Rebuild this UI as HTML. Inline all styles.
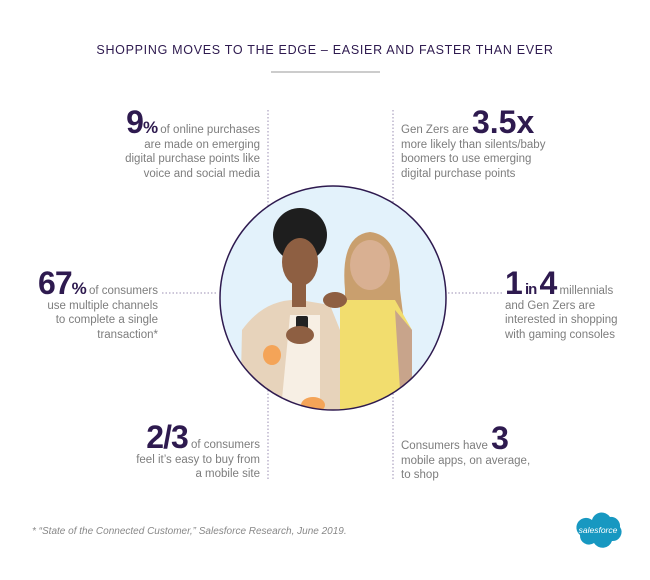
<!DOCTYPE html>
<html><head><style>
body{margin:0;background:#fff;width:650px;height:580px;position:relative;overflow:hidden;font-family:"Liberation Sans",sans-serif;color:#7d7d7d}
.t{position:absolute;font-size:11.5px;line-height:14.5px}
.r{text-align:right}
.b{color:#2e1a4f;font-weight:bold;letter-spacing:-1px}
</style></head><body>
<div style="position:absolute;left:0;width:650px;top:43px;text-align:center;font-size:12.5px;color:#2e1a4f;letter-spacing:0.7px">SHOPPING MOVES TO THE EDGE – EASIER AND FASTER THAN EVER</div>
<div style="position:absolute;left:271px;top:71px;width:109px;height:2px;background:#ccc"></div>

<svg width="650" height="580" style="position:absolute;left:0;top:0">
<g stroke="#9b8fb3" stroke-width="1" stroke-dasharray="1.5,2" fill="none">
<line x1="268" y1="110" x2="268" y2="480"/>
<line x1="393" y1="110" x2="393" y2="480"/>
<line x1="162" y1="293" x2="218" y2="293"/>
<line x1="448" y1="293" x2="502" y2="293"/>
</g>
<defs><clipPath id="c"><ellipse cx="333" cy="298" rx="113" ry="112"/></clipPath></defs>
<ellipse cx="333" cy="298" rx="113" ry="112" fill="#e3f2fb"/>
<g clip-path="url(#c)">
<path d="M345 290 Q340 235 370 232 Q400 235 400 290 L405 330 L345 330Z" fill="#c99f6e"/>
<path d="M340 300 L395 300 L412 330 L410 420 L340 420Z" fill="#f2dd6e"/>
<path d="M395 310 L412 330 L412 390 L400 390Z" fill="#c8a48b"/>
<ellipse cx="370" cy="265" rx="20" ry="25" fill="#d9b092"/>
<path d="M242 330 Q265 298 300 300 L330 305 L340 330 L340 420 L240 420Z" fill="#e7d3bb"/>
<path d="M290 315 L320 315 L320 420 L280 420Z" fill="#f7efe4"/>
<circle cx="300" cy="235" r="27" fill="#1e1e1e"/>
<ellipse cx="300" cy="262" rx="18" ry="24" fill="#8e5f42"/>
<rect x="292" y="282" width="14" height="25" fill="#8e5f42"/>
<rect x="296" y="316" width="12" height="20" rx="2" fill="#222"/>
<ellipse cx="300" cy="335" rx="14" ry="9" fill="#8e5f42"/>
<ellipse cx="272" cy="355" rx="9" ry="10" fill="#f4a458"/>
<ellipse cx="313" cy="405" rx="12" ry="8" fill="#f4a458"/>
<ellipse cx="335" cy="300" rx="12" ry="8" fill="#8e5f42"/>
</g>
<ellipse cx="333" cy="298" rx="113" ry="112" fill="none" stroke="#2e1a4f" stroke-width="1.5"/>
<path d="M592 520 a10 10 0 0 1 18 -3 a9 9 0 0 1 10 10 a9 9 0 0 1 -8 14 a10 10 0 0 1 -18 2 a9 9 0 0 1 -14 -8 a9 9 0 0 1 12 -15z" fill="#1798c1"/>
<text x="598" y="533" font-size="8.5" fill="#fff" text-anchor="middle" font-family="Liberation Sans" font-style="italic">salesforce</text>
</svg>

<div class="t r" style="right:390px;top:115px;width:200px"><span class="b" style="font-size:32px">9</span><span class="b" style="font-size:17px">%</span> of online purchases<br>are made on emerging<br>digital purchase points like<br>voice and social media</div>
<div class="t" style="left:401px;top:115px;width:220px">Gen Zers are <span class="b" style="font-size:32px;letter-spacing:0">3.5x</span><br>more likely than silents/baby<br>boomers to use emerging<br>digital purchase points</div>

<div class="t r" style="right:492px;top:276px;width:200px"><span class="b" style="font-size:32px">67</span><span class="b" style="font-size:17px">%</span> of consumers<br>use multiple channels<br>to complete a single<br>transaction*</div>
<div class="t" style="left:505px;top:276px;width:140px"><span class="b" style="font-size:32px">1</span> <span class="b" style="font-size:15px">in</span> <span class="b" style="font-size:32px">4</span> millennials<br>and Gen Zers are<br>interested in shopping<br>with gaming consoles</div>

<div class="t r" style="right:390px;top:430px;width:200px"><span class="b" style="font-size:32px">2/3</span> of consumers<br>feel it’s easy to buy from<br>a mobile site</div>
<div class="t" style="left:401px;top:431px;width:200px">Consumers have <span class="b" style="font-size:32px">3</span><br>mobile apps, on average,<br>to shop</div>

<div style="position:absolute;left:32px;top:526px;font-size:10px;font-style:italic;color:#888">* “State of the Connected Customer,” Salesforce Research, June 2019.</div>
</body></html>
